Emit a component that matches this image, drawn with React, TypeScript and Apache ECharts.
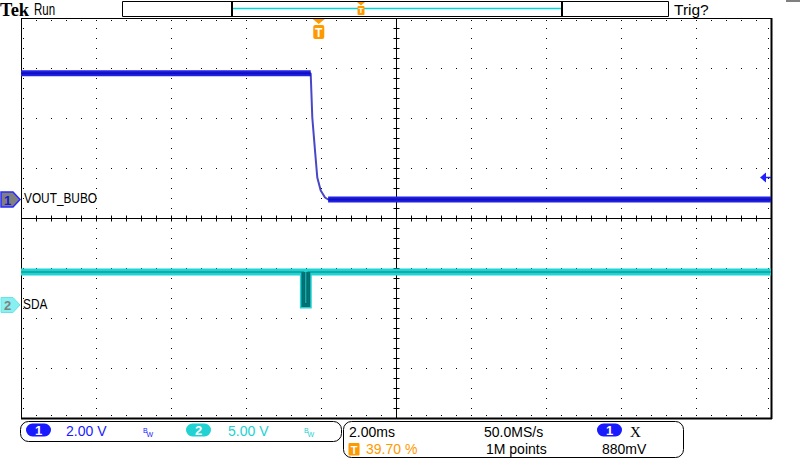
import React, { useEffect, useRef } from 'react';
import * as echarts from 'echarts';

// ---- data (time in ms relative to trigger, values in volts) ----
const ch1Time = [-7.94, -0.215, -0.172, -0.1, -0.039, 0.052, 0.167, 0.25, 12.06];
const ch1Volts = [5.05, 5.05, 3.28, 1.96, 0.88, 0.36, 0.08, 0.0, 0.0];
const ch2Time = [-7.94, -0.41, -0.41, -0.28, -0.28, 12.06];
const ch2Volts = [3.3, 3.3, 0.0, 0.0, 3.3, 3.3];

const timePerDiv = 2; // ms/div
const triggerPercent = 39.7;
const ch1VoltsPerDiv = 2;
const ch2VoltsPerDiv = 5;
const ch1OffsetDiv = 0.37;
const ch2OffsetDiv = -1.74;
const triggerLevel = 0.88;
const ch1Label = 'VOUT_BUBO';
const ch2Label = 'SDA';

const BLUE = '#1a1aff';
const CYAN = '#22d2d2';
const ORANGE = '#ff9900';
const SANS = '"Liberation Sans", Arial, sans-serif';

function txt(x: number, y: number, text: string, fill: string, size: number, opts: any = {}) {
  return {
    type: 'text',
    x,
    y,
    scaleX: opts.scaleX ?? 1,
    style: {
      text,
      fill,
      fontSize: size,
      fontFamily: opts.family ?? SANS,
      fontWeight: opts.weight ?? 'normal',
      align: opts.align ?? 'left',
      verticalAlign: 'middle',
    },
  };
}

export default function App() {
  const ref = useRef<HTMLDivElement>(null);
  useEffect(() => {
    const chart = echarts.init(ref.current!, null, { renderer: 'svg' });
    const xMin = -(triggerPercent / 100) * 10 * timePerDiv;
    const xMax = xMin + 10 * timePerDiv;
    const c1 = -ch1OffsetDiv * ch1VoltsPerDiv;
    const c2 = -ch2OffsetDiv * ch2VoltsPerDiv;
    const ch1 = ch1Time.map((t, i) => [t, ch1Volts[i]]);
    const ch2 = ch2Time.map((t, i) => [t, ch2Volts[i]]);
    const n1 = ch1.length;

    const graticule = (params: any) => {
      const cs = params.coordSys;
      const x0 = cs.x, y0 = cs.y, w = cs.width, h = cs.height;
      const dx = w / 10, dy = h / 8;
      const ch: any[] = [];
      const dot = (x: number, y: number) =>
        ch.push({ type: 'rect', shape: { x: Math.round(x), y: Math.round(y), width: 1, height: 1 }, style: { fill: '#000' } });
      const seg = (x1: number, y1: number, x2: number, y2: number, lw = 1) =>
        ch.push({ type: 'line', shape: { x1, y1, x2, y2 }, style: { stroke: '#000', lineWidth: lw } });
      for (let i = 1; i < 10; i++) {
        if (i === 5) continue;
        for (let j = 1; j < 40; j++) dot(x0 + i * dx, y0 + (j * dy) / 5);
      }
      for (let i = 1; i < 8; i++) {
        if (i === 4) continue;
        for (let j = 1; j < 50; j++) dot(x0 + (j * dx) / 5, y0 + i * dy);
      }
      const cx = Math.round(x0 + 5 * dx) + 0.5;
      const cy = Math.round(y0 + 4 * dy) + 0.5;
      seg(cx, y0, cx, y0 + h);
      seg(x0, cy, x0 + w, cy);
      for (let j = 1; j < 40; j++) {
        const y = Math.round(y0 + (j * dy) / 5) + 0.5;
        seg(cx - 3, y, cx + 3, y);
      }
      for (let j = 1; j < 50; j++) {
        const x = Math.round(x0 + (j * dx) / 5) + 0.5;
        seg(x, cy - 3, x, cy + 3);
      }
      for (let j = 1; j < 50; j++) {
        const x = Math.round(x0 + (j * dx) / 5);
        dot(x, y0 + 2);
        dot(x, y0 + h - 3);
      }
      for (let j = 1; j < 40; j++) {
        const y = Math.round(y0 + (j * dy) / 5);
        dot(x0 + 2, y);
        dot(x0 + w - 3, y);
      }
      seg(x0, y0 + 0.5, x0 + w, y0 + 0.5);
      seg(x0 + 0.5, y0, x0 + 0.5, y0 + h);
      seg(x0, y0 + h + 0.5, x0 + w + 1, y0 + h + 0.5, 2);
      seg(x0 + w + 0.5, y0, x0 + w + 0.5, y0 + h + 1, 2);
      return { type: 'group', children: ch };
    };

    const ch1Overlay = (params: any, api: any) => {
      const cs = params.coordSys;
      const yg = api.coord([0, 0])[1];
      const ty = api.coord([0, triggerLevel])[1];
      const tx = api.coord([0, 0])[0];
      const right = cs.x + cs.width;
      return {
        type: 'group',
        children: [
          { type: 'polygon', shape: { points: [[1, yg - 7.5], [13, yg - 7.5], [20, yg], [13, yg + 7.5], [1, yg + 7.5]] }, style: { fill: '#808080', stroke: '#2a2aff', lineWidth: 1.5 } },
          txt(7.5, yg + 0.5, '1', '#1a1ad0', 13, { align: 'center', weight: 'bold' }),
          txt(24, yg - 1, ch1Label, '#000', 15, { scaleX: 0.79 }),
          { type: 'polygon', shape: { points: [[right - 11, ty], [right - 5, ty - 5], [right - 5, ty + 5]] }, style: { fill: '#2020ff' } },
          { type: 'line', shape: { x1: right - 6, y1: ty, x2: right, y2: ty }, style: { stroke: '#2020ff', lineWidth: 1.5 } },
          { type: 'polygon', shape: { points: [[tx - 6, cs.y + 1], [tx + 6, cs.y + 1], [tx, cs.y + 6]] }, style: { fill: ORANGE } },
          { type: 'rect', shape: { x: tx - 5.5, y: cs.y + 7, width: 11, height: 14, r: 2 }, style: { fill: ORANGE } },
          txt(tx, cs.y + 14.5, 'T', '#fff', 12, { align: 'center', weight: 'bold' }),
        ],
      };
    };

    const ch2Overlay = (params: any, api: any) => {
      const yg = api.coord([0, 0])[1];
      return {
        type: 'group',
        children: [
          { type: 'polygon', shape: { points: [[1, yg - 7.5], [13, yg - 7.5], [20, yg], [13, yg + 7.5], [1, yg + 7.5]] }, style: { fill: '#88f0f0', stroke: '#66e4e4', lineWidth: 1 } },
          txt(7.5, yg + 0.5, '2', '#808080', 13, { align: 'center', weight: 'bold' }),
          txt(23, yg - 1, ch2Label, '#000', 15, { scaleX: 0.79 }),
        ],
      };
    };

    const graphics: any[] = [
      // top bar
      txt(0, 9.5, 'Tek', '#000', 19.5, { family: '"Liberation Serif", serif', weight: 'bold', scaleX: 0.95 }),
      txt(34, 9.5, 'Run', '#000', 16, { scaleX: 0.72 }),
      { type: 'rect', shape: { x: 122.5, y: 1.5, width: 546, height: 15 }, style: { fill: '#fff', stroke: '#000', lineWidth: 1 } },
      { type: 'line', shape: { x1: 233, y1: 8.5, x2: 561, y2: 8.5 }, style: { stroke: '#00d8d8', lineWidth: 1.5 } },
      { type: 'rect', shape: { x: 231, y: 2, width: 2, height: 14 }, style: { fill: '#000' } },
      { type: 'rect', shape: { x: 561, y: 2, width: 2, height: 14 }, style: { fill: '#000' } },
      { type: 'polygon', shape: { points: [[357, 2], [365, 2], [361, 5.5]] }, style: { fill: ORANGE } },
      { type: 'rect', shape: { x: 357.5, y: 6, width: 7, height: 9, r: 1 }, style: { fill: ORANGE } },
      txt(361, 10.5, 'T', '#fff', 8, { align: 'center', weight: 'bold' }),
      txt(674, 9.5, 'Trig?', '#000', 15.5),
      { type: 'line', shape: { x1: 786, y1: 1, x2: 800, y2: 1 }, style: { stroke: '#000', lineWidth: 1 } },
      // channel box
      { type: 'rect', shape: { x: 20.5, y: 421.5, width: 321, height: 20, r: 8 }, style: { fill: 'none', stroke: '#000', lineWidth: 1 } },
      { type: 'rect', shape: { x: 26, y: 423.5, width: 25, height: 13, r: 6.5 }, style: { fill: BLUE } },
      txt(38.5, 430.5, '1', '#fff', 13, { align: 'center', weight: 'bold' }),
      txt(66, 431, '2.00 V', BLUE, 14),
      txt(143, 430, 'B', BLUE, 7),
      txt(146.5, 434.5, 'W', BLUE, 7),
      { type: 'rect', shape: { x: 186, y: 423.5, width: 25, height: 13, r: 6.5 }, style: { fill: CYAN } },
      txt(198.5, 430.5, '2', '#fff', 13, { align: 'center', weight: 'bold' }),
      txt(228, 431, '5.00 V', CYAN, 14),
      txt(304, 430, 'B', CYAN, 7),
      txt(307.5, 434.5, 'W', CYAN, 7),
      // timebase box
      { type: 'rect', shape: { x: 343.5, y: 421.5, width: 340, height: 36, r: 8 }, style: { fill: 'none', stroke: '#000', lineWidth: 1 } },
      txt(349, 431.5, '2.00ms', '#000', 14),
      txt(484, 431.5, '50.0MS/s', '#000', 14),
      { type: 'rect', shape: { x: 597, y: 423.5, width: 25, height: 13, r: 6.5 }, style: { fill: BLUE } },
      txt(609.5, 430.5, '1', '#fff', 13, { align: 'center', weight: 'bold' }),
      txt(630, 431.5, 'X', '#000', 15, { family: '"Liberation Serif", serif' }),
      { type: 'rect', shape: { x: 348.5, y: 443, width: 11, height: 12.5, r: 1 }, style: { fill: ORANGE } },
      txt(354, 449.5, 'T', '#fff', 11, { align: 'center', weight: 'bold' }),
      txt(366, 449, '39.70 %', ORANGE, 14),
      txt(486, 449, '1M points', '#000', 14),
      txt(602, 449, '880mV', '#000', 14),
    ];

    chart.setOption({
      animation: false,
      backgroundColor: '#fff',
      grid: { left: 21, top: 18, width: 750, height: 400, containLabel: false },
      xAxis: { type: 'value', min: xMin, max: xMax, show: false },
      yAxis: [
        { type: 'value', min: c1 - 4 * ch1VoltsPerDiv, max: c1 + 4 * ch1VoltsPerDiv, show: false },
        { type: 'value', min: c2 - 4 * ch2VoltsPerDiv, max: c2 + 4 * ch2VoltsPerDiv, show: false },
      ],
      graphic: graphics,
      series: [
        { type: 'custom', renderItem: graticule, data: [[0, 0]], silent: true, clip: false, z: 1 },
        {
          type: 'line', yAxisIndex: 1, data: ch2, showSymbol: false, symbol: 'none', z: 2,
          lineStyle: { color: '#20d4d4', width: 7, cap: 'butt', join: 'miter' },
        },
        {
          type: 'line', yAxisIndex: 1, data: ch2.slice(1, 5), showSymbol: false, symbol: 'none', z: 3,
          lineStyle: { color: '#006b6e', width: 4, cap: 'butt', join: 'miter' },
        },
        {
          type: 'line', yAxisIndex: 1, data: ch2, showSymbol: false, symbol: 'none', z: 3,
          lineStyle: { color: '#007a7c', width: 1.5, opacity: 0.6, cap: 'butt', join: 'miter' },
        },
        {
          type: 'line', yAxisIndex: 0, data: ch1.slice(0, 2), showSymbol: false, symbol: 'none', z: 2,
          lineStyle: { color: '#2222e6', width: 6, cap: 'butt' },
        },
        {
          type: 'line', yAxisIndex: 0, data: ch1.slice(n1 - 2), showSymbol: false, symbol: 'none', z: 2,
          lineStyle: { color: '#2222e6', width: 6, cap: 'butt' },
        },
        {
          type: 'line', yAxisIndex: 0, data: ch1, showSymbol: false, symbol: 'none', z: 3,
          lineStyle: { color: '#0a0ab4', width: 2, opacity: 0.75, cap: 'butt' },
        },
        { type: 'custom', yAxisIndex: 0, renderItem: ch1Overlay, data: [[0, triggerLevel]], silent: true, clip: false, z: 5 },
        { type: 'custom', yAxisIndex: 1, renderItem: ch2Overlay, data: [[0, 0]], silent: true, clip: false, z: 5 },
      ],
    });
    return () => chart.dispose();
  }, []);
  return <div ref={ref} style={{ position: 'fixed', left: 0, top: 0, width: 800, height: 461 }} />;
}
